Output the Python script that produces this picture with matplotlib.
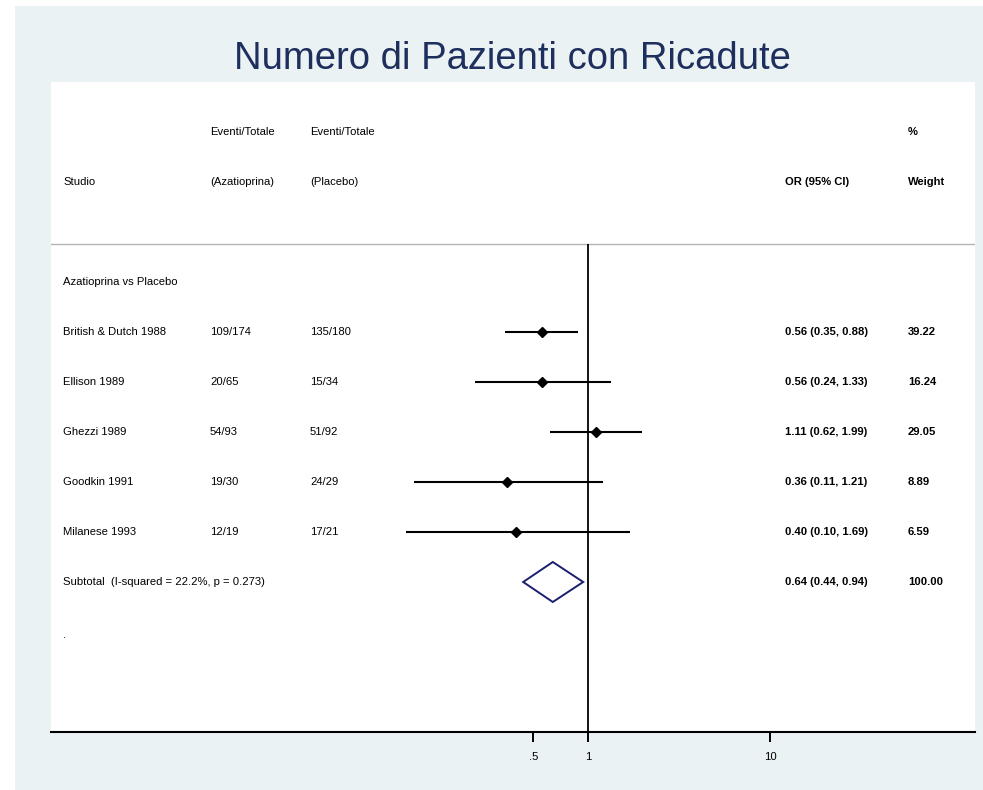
import matplotlib
matplotlib.use('Agg')
import matplotlib.pyplot as plt
from matplotlib.patches import Rectangle, Polygon
import numpy as np

plt.rcParams['font.family'] = ['Liberation Sans', 'DejaVu Sans']

# dati
studi = ['British & Dutch 1988', 'Ellison 1989', 'Ghezzi 1989', 'Goodkin 1991', 'Milanese 1993']
aza = ['109/174', '20/65', '54/93', '19/30', '12/19']
placebo = ['135/180', '15/34', '51/92', '24/29', '17/21']
or_val = [0.56, 0.56, 1.11, 0.36, 0.40]
ci_low = [0.35, 0.24, 0.62, 0.11, 0.10]
ci_high = [0.88, 1.33, 1.99, 1.21, 1.69]
pesi = ['39.22', '16.24', '29.05', '8.89', '6.59']
pooled = (0.64, 0.44, 0.94)
pooled_peso = '100.00'
tick_vals = [0.5, 1, 10]
tick_labels = ['.5', '1', '10']

W, H = 983, 790
fig = plt.figure(figsize=(W / 100, H / 100), dpi=100, facecolor='white')

# sfondo azzurro
bg = '#eaf2f3'
fig.patches.append(Rectangle((15 / W, 0), 1 - 15 / W, 1 - 6 / H, transform=fig.transFigure,
                             facecolor=bg, edgecolor='none', zorder=-10))

# area del grafico
left, right, top, bottom = 51, 975, 82, 732
ax = fig.add_axes([left / W, 1 - bottom / H, (right - left) / W, (bottom - top) / H])
ax.set_zorder(1)
ax.set_facecolor('white')
ax.set_xscale('log')
ax.set_xlim(10 ** -2.951, 10 ** 2.126)
ax.set_ylim(13, 0)

for s in ['top', 'left', 'right']:
    ax.spines[s].set_visible(False)
ax.spines['bottom'].set_linewidth(1.5)
ax.set_yticks([])
ax.set_xticks(tick_vals)
ax.set_xticklabels(tick_labels)
ax.minorticks_off()
ax.tick_params(axis='x', direction='out', length=7, width=1.4, pad=7.5, labelsize=8.1)

fs = 8.1
xs = {'studio': 12 / 924, 'aza': 159 / 924, 'plac': 259 / 924, 'or': 734 / 924, 'w': 857 / 924}
tr = ax.get_yaxis_transform()

# intestazioni
ax.text(xs['aza'], 1, 'Eventi/Totale', transform=tr, fontsize=fs, va='center')
ax.text(xs['plac'], 1, 'Eventi/Totale', transform=tr, fontsize=fs, va='center')
ax.text(xs['w'], 1, '%', transform=tr, fontsize=fs, va='center', fontweight='bold')
ax.text(xs['studio'], 2, 'Studio', transform=tr, fontsize=fs, va='center')
ax.text(xs['aza'], 2, '(Azatioprina)', transform=tr, fontsize=fs, va='center')
ax.text(xs['plac'], 2, '(Placebo)', transform=tr, fontsize=fs, va='center')
ax.text(xs['or'], 2, 'OR (95% CI)', transform=tr, fontsize=fs, va='center', fontweight='bold')
ax.text(xs['w'], 2, 'Weight', transform=tr, fontsize=fs, va='center', fontweight='bold')

sep = 3.24
ax.axhline(sep, color='#b4b4b4', lw=1.0)
ax.vlines(1, sep, 13, color='black', lw=1.3)

ax.text(xs['studio'], 4, 'Azatioprina vs Placebo', transform=tr, fontsize=fs, va='center')

for i in range(len(studi)):
    y = 5 + i
    ax.plot([ci_low[i], ci_high[i]], [y, y], color='black', lw=1.5, solid_capstyle='butt')
    ax.plot(or_val[i], y, marker='D', color='black', ms=5.5)
    ax.text(xs['studio'], y, studi[i], transform=tr, fontsize=fs, va='center')
    ax.text(xs['aza'], y, aza[i], transform=tr, fontsize=fs, va='center')
    ax.text(xs['plac'], y, placebo[i], transform=tr, fontsize=fs, va='center')
    ax.text(xs['or'], y, '%.2f (%.2f, %.2f)' % (or_val[i], ci_low[i], ci_high[i]),
            transform=tr, fontsize=fs, va='center', fontweight='bold')
    ax.text(xs['w'], y, pesi[i], transform=tr, fontsize=fs, va='center', fontweight='bold')

# stima complessiva
ys = 10
p, lo, hi = pooled
ax.add_patch(Polygon([[lo, ys], [p, ys - 0.4], [hi, ys], [p, ys + 0.4]], closed=True,
                     fill=False, edgecolor='#1a1f6e', lw=1.4))
ax.text(xs['studio'], ys, 'Subtotal  (I-squared = 22.2%, p = 0.273)', transform=tr, fontsize=fs, va='center')
ax.text(xs['or'], ys, '%.2f (%.2f, %.2f)' % pooled, transform=tr, fontsize=fs, va='center', fontweight='bold')
ax.text(xs['w'], ys, pooled_peso, transform=tr, fontsize=fs, va='center', fontweight='bold')
ax.text(xs['studio'], 11.06, '.', transform=tr, fontsize=fs, va='center')

fig.text(512.5 / W, 1 - 69 / H, 'Numero di Pazienti con Ricadute', ha='center', va='baseline',
         fontsize=27.5, color='#1e2f5e')

fig.savefig('out.png', dpi=100, facecolor='white')
